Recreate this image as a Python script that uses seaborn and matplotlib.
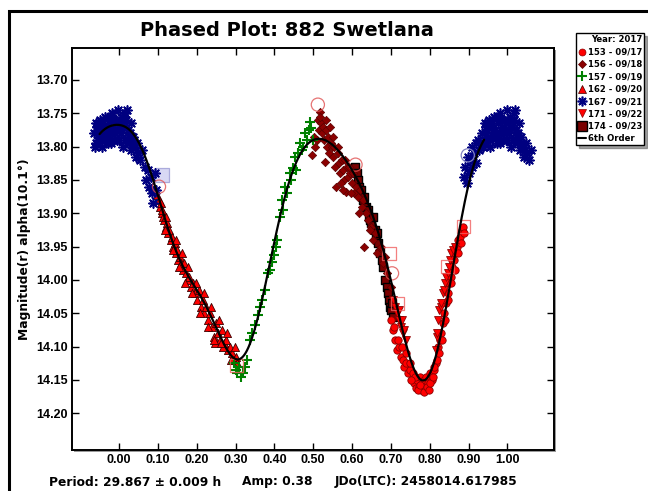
import numpy as np
import pandas as pd
import matplotlib
matplotlib.use("Agg")
import matplotlib.pyplot as plt
from matplotlib.patches import Rectangle
from matplotlib.lines import Line2D
import seaborn as sns

# ---------------------------------------------------------------- data
# Session 153 (09/17)
s153_phase = [0.700, 0.705, 0.710, 0.715, 0.720, 0.725, 0.730, 0.735, 0.740, 0.745,
              0.750, 0.755, 0.757, 0.760, 0.765, 0.768, 0.772, 0.775, 0.778, 0.780,
              0.782, 0.785, 0.788, 0.790, 0.795, 0.800, 0.805, 0.810, 0.815, 0.820,
              0.822, 0.826, 0.830, 0.834, 0.838, 0.842, 0.846, 0.850, 0.854, 0.858,
              0.862, 0.866, 0.870, 0.874, 0.878, 0.882, 0.885, 0.888,
              0.762, 0.770, 0.775, 0.785, 0.792, 0.798, 0.802, 0.808, 0.812, 0.752,
              0.748, 0.738, 0.728, 0.718, 0.708, 0.824, 0.832, 0.840, 0.848, 0.856,
              0.864, 0.872, 0.880]
s153_mag = [14.060, 14.075, 14.090, 14.105, 14.100, 14.115, 14.120, 14.130, 14.125, 14.140,
            14.135, 14.150, 14.140, 14.155, 14.162, 14.150, 14.160, 14.145, 14.165, 14.155,
            14.165, 14.150, 14.160, 14.145, 14.155, 14.140, 14.150, 14.135, 14.125, 14.120,
            14.100, 14.090, 14.080, 14.065, 14.050, 14.035, 14.020, 14.005, 13.995, 13.980,
            13.970, 13.960, 13.950, 13.940, 13.935, 13.925, 13.920, 13.930,
            14.145, 14.165, 14.158, 14.168, 14.160, 14.165, 14.155, 14.145, 14.130, 14.150,
            14.125, 14.110, 14.100, 14.090, 14.070, 14.110, 14.090, 14.060, 14.030, 14.005,
            13.985, 13.960, 13.945]

# Session 156 (09/18)
s156_phase = [0.497, 0.505, 0.510, 0.512, 0.515, 0.517, 0.520, 0.523, 0.525, 0.528,
              0.530, 0.533, 0.535, 0.538, 0.540, 0.545, 0.548, 0.550, 0.553, 0.556,
              0.560, 0.563, 0.566, 0.570, 0.573, 0.576, 0.580, 0.585, 0.588, 0.590,
              0.595, 0.600, 0.605, 0.610, 0.615, 0.620, 0.625, 0.630, 0.635, 0.640,
              0.650, 0.660, 0.670, 0.680, 0.690, 0.700,
              0.502, 0.518, 0.532, 0.542, 0.551, 0.565, 0.575, 0.582, 0.592, 0.598,
              0.603, 0.578, 0.571, 0.618, 0.628, 0.645, 0.655, 0.665, 0.675, 0.685]
s156_mag = [13.812, 13.800, 13.790, 13.760, 13.775, 13.748, 13.765, 13.780, 13.770, 13.790,
            13.823, 13.775, 13.800, 13.785, 13.810, 13.795, 13.800, 13.815, 13.800, 13.830,
            13.860, 13.810, 13.825, 13.840, 13.820, 13.835, 13.850, 13.868, 13.830, 13.845,
            13.840, 13.855, 13.870, 13.860, 13.875, 13.865, 13.890, 13.950, 13.900, 13.910,
            13.920, 13.930, 13.955, 13.975, 13.990, 14.010,
            13.785, 13.755, 13.760, 13.770, 13.785, 13.800, 13.820, 13.820, 13.830, 13.870,
            13.840, 13.865, 13.855, 13.900, 13.880, 13.925, 13.940, 13.960, 13.950, 13.965]

# Session 157 (09/19)
s157_phase = [0.295, 0.300, 0.305, 0.310, 0.315, 0.320, 0.325, 0.330, 0.337, 0.343,
              0.350, 0.357, 0.362, 0.367, 0.375, 0.383, 0.388, 0.393, 0.400, 0.404,
              0.408, 0.414, 0.419, 0.421, 0.427, 0.432, 0.440, 0.444, 0.447, 0.452,
              0.455, 0.460, 0.465, 0.470, 0.473, 0.478, 0.483, 0.488, 0.491, 0.494, 0.500]
s157_mag = [14.125, 14.135, 14.140, 14.130, 14.145, 14.140, 14.130, 14.120, 14.090, 14.080,
            14.067, 14.052, 14.040, 14.030, 14.015, 13.990, 13.985, 13.973, 13.962, 13.950,
            13.940, 13.905, 13.880, 13.895, 13.860, 13.870, 13.840, 13.850, 13.832, 13.815,
            13.835, 13.810, 13.795, 13.805, 13.800, 13.780, 13.790, 13.775, 13.763, 13.772, 13.790]

# Session 162 (09/20)
s162_phase = [0.098, 0.102, 0.105, 0.108, 0.110, 0.114, 0.117, 0.120, 0.124, 0.127,
              0.130, 0.133, 0.136, 0.140, 0.143, 0.146, 0.150, 0.153, 0.157, 0.160,
              0.164, 0.168, 0.172, 0.176, 0.180, 0.185, 0.190, 0.195, 0.200, 0.205,
              0.210, 0.215, 0.220, 0.225, 0.230, 0.235, 0.240, 0.245, 0.250, 0.255,
              0.260, 0.265, 0.270, 0.275, 0.280, 0.285, 0.290, 0.295, 0.300, 0.305,
              0.112, 0.118, 0.122, 0.138, 0.148, 0.155, 0.162, 0.170, 0.178, 0.188,
              0.198, 0.208, 0.218, 0.228, 0.238, 0.248, 0.258, 0.268, 0.278, 0.288,
              0.298, 0.245, 0.262]
s162_mag = [13.872, 13.880, 13.890, 13.885, 13.900, 13.905, 13.910, 13.920, 13.915, 13.930,
            13.925, 13.940, 13.935, 13.950, 13.945, 13.960, 13.955, 13.970, 13.965, 13.975,
            13.985, 13.975, 13.990, 14.000, 13.995, 14.010, 14.005, 14.020, 14.030, 14.015,
            14.040, 14.030, 14.050, 14.040, 14.060, 14.050, 14.070, 14.085, 14.065, 14.080,
            14.090, 14.075, 14.095, 14.090, 14.105, 14.100, 14.110, 14.120, 14.115, 14.125,
            13.895, 13.925, 13.905, 13.955, 13.940, 13.980, 13.960, 14.005, 13.980, 14.020,
            14.005, 14.050, 14.020, 14.070, 14.040, 14.095, 14.060, 14.100, 14.080, 14.120,
            14.100, 14.090, 14.095]

# Session 167 (09/21) -- phases past 1.0 wrap to the start of the cycle
s167_phase = [0.887, 0.892, 0.895, 0.898, 0.902, 0.905, 0.908, 0.910, 0.915, 0.918,
              0.920, 0.925, 0.928, 0.935, 0.938, 0.942, 0.945, 0.948, 0.952, 0.955,
              0.958, 0.962, 0.965, 0.968, 0.972, 0.975, 0.978, 0.982, 0.985, 0.988,
              0.992, 0.995, 0.998, 1.002, 1.005, 1.008, 1.012, 1.015, 1.018, 1.022,
              1.025, 1.028, 1.032, 1.035, 1.040, 1.043, 1.047, 1.050, 1.055, 1.060,
              1.067, 1.070, 1.074, 1.078, 1.082, 1.085, 1.088, 1.092, 1.095,
              0.940, 0.950, 0.960, 0.970, 0.980, 0.990, 1.000, 1.010, 1.020, 1.030,
              0.944, 0.956, 0.966, 0.976, 0.986, 0.996, 1.006, 1.016, 1.026, 1.036]
s167_mag = [13.845, 13.830, 13.855, 13.815, 13.840, 13.820, 13.800, 13.830, 13.810, 13.795,
            13.825, 13.790, 13.805, 13.780, 13.800, 13.765, 13.790, 13.775, 13.760, 13.800,
            13.770, 13.785, 13.755, 13.775, 13.795, 13.765, 13.780, 13.750, 13.770, 13.790,
            13.760, 13.775, 13.745, 13.765, 13.780, 13.755, 13.770, 13.790, 13.760, 13.775,
            13.795, 13.780, 13.805, 13.785, 13.800, 13.815, 13.795, 13.810, 13.820, 13.805,
            13.830, 13.850, 13.835, 13.860, 13.845, 13.870, 13.885, 13.840, 13.865,
            13.795, 13.785, 13.765, 13.785, 13.795, 13.780, 13.790, 13.800, 13.745, 13.765,
            13.770, 13.790, 13.780, 13.755, 13.760, 13.790, 13.770, 13.750, 13.785, 13.795]

# Session 171 (09/22)
s171_phase = [0.705, 0.710, 0.715, 0.720, 0.722, 0.725, 0.728, 0.730, 0.735, 0.738,
              0.815, 0.818, 0.820, 0.822, 0.825, 0.828, 0.830, 0.833, 0.836, 0.840,
              0.843, 0.846, 0.850, 0.853, 0.856, 0.860, 0.864]
s171_mag = [14.030, 14.040, 14.050, 14.060, 14.045, 14.070, 14.060, 14.080, 14.075, 14.090,
            14.105, 14.085, 14.080, 14.060, 14.045, 14.040, 14.035, 14.020, 14.015, 14.005,
            13.995, 13.990, 13.980, 13.970, 13.960, 13.955, 13.950]

# Session 174 (09/23)
s174_phase = [0.608, 0.612, 0.615, 0.617, 0.620, 0.623, 0.627, 0.630, 0.635, 0.640,
              0.643, 0.647, 0.650, 0.655, 0.658, 0.662, 0.665, 0.668, 0.672, 0.676,
              0.680, 0.685, 0.690, 0.692, 0.695, 0.698, 0.700, 0.703, 0.706]
s174_mag = [13.830, 13.840, 13.850, 13.860, 13.870, 13.865, 13.880, 13.875, 13.890, 13.895,
            13.905, 13.910, 13.915, 13.905, 13.925, 13.935, 13.930, 13.945, 13.960, 13.970,
            13.980, 14.000, 14.010, 14.020, 14.030, 14.040, 14.045, 14.035, 14.055]

# Points excluded from the fit (drawn hollow)
excl_circle_phase = [0.103, 0.512, 0.609, 0.703]
excl_circle_mag = [13.860, 13.737, 13.827, 13.990]
excl_square_phase = [0.846, 0.887, 0.695, 0.717, 0.303]
excl_square_mag = [13.980, 13.920, 13.960, 14.035, 14.128]
excl_blue_circle = (0.898, 13.813)
excl_blue_square = (0.112, 13.842)

# Knots of the 6th-order Fourier light curve
fit_phase = [0.000, 0.025, 0.050, 0.075, 0.100, 0.125, 0.150, 0.175, 0.200, 0.225,
             0.250, 0.275, 0.300, 0.320, 0.340, 0.360, 0.380, 0.400, 0.420, 0.440,
             0.460, 0.480, 0.500, 0.520, 0.540, 0.560, 0.580, 0.600, 0.620, 0.640,
             0.660, 0.680, 0.700, 0.720, 0.740, 0.760, 0.780, 0.800, 0.820, 0.840,
             0.860, 0.880, 0.900, 0.920, 0.940, 0.960, 0.980]
fit_mag = [13.766, 13.771, 13.792, 13.833, 13.875, 13.918, 13.955, 13.990, 14.020, 14.045,
           14.070, 14.093, 14.113, 14.124, 14.100, 14.045, 13.990, 13.945, 13.895, 13.850,
           13.818, 13.798, 13.789, 13.790, 13.795, 13.804, 13.815, 13.832, 13.857, 13.885,
           13.918, 13.955, 13.998, 14.050, 14.095, 14.135, 14.152, 14.145, 14.105, 14.045,
           13.975, 13.915, 13.860, 13.815, 13.790, 13.777, 13.768]

x_ticks = [0.0, 0.1, 0.2, 0.3, 0.4, 0.5, 0.6, 0.7, 0.8, 0.9, 1.0]
y_ticks = [13.70, 13.75, 13.80, 13.85, 13.90, 13.95, 14.00, 14.05, 14.10, 14.15, 14.20]

title = "Phased Plot: 882 Swetlana"
y_label = "Magnitude(r) alpha(10.1°)"
footer = ["Period: 29.867 ± 0.009 h", "Amp: 0.38", "JDo(LTC): 2458014.617985"]
legend_title = "Year: 2017"

# ---------------------------------------------------------------- style
sns.set_style("ticks")
plt.rcParams["font.family"] = ["Liberation Sans", "DejaVu Sans"]
plt.rcParams["font.weight"] = "bold"
plt.rcParams["text.color"] = "black"
plt.rcParams["axes.labelcolor"] = "black"
plt.rcParams["xtick.color"] = "black"
plt.rcParams["ytick.color"] = "black"

W, H = 648, 491
fig = plt.figure(figsize=(W / 100, H / 100), dpi=100)
fig.patch.set_facecolor("white")

ax_l, ax_r, ax_t, ax_b = 72, 554, 48, 450
ax = fig.add_axes([ax_l / W, 1 - ax_b / H, (ax_r - ax_l) / W, (ax_b - ax_t) / H])
ax.set_facecolor("white")

# drop shadow behind the plot frame
fig.add_artist(Rectangle(((ax_l + 2) / W, 1 - (ax_b + 2) / H), (ax_r - ax_l) / W,
                         (ax_b - ax_t) / H, transform=fig.transFigure,
                         facecolor="#9a9a9a", edgecolor="none", zorder=-5))
# outer page border
fig.add_artist(Rectangle((9 / W, -0.2), 1.5, 1.2 - 11 / H, transform=fig.transFigure,
                         fill=False, edgecolor="black", linewidth=2.2, zorder=10))

XMIN, XMAX = -0.065, 1.065


def wrap(phase, mag):
    p = np.asarray(phase, float)
    m = np.asarray(mag, float)
    ps, ms = [], []
    for shift in (-1.0, 0.0):
        q = p + shift
        keep = (q >= XMIN) & (q <= XMAX)
        ps.append(q[keep])
        ms.append(m[keep])
    return pd.DataFrame({"phase": np.concatenate(ps), "mag": np.concatenate(ms)})


series = [
    ("174 - 09/23", s174_phase, s174_mag, dict(marker="s", s=36, color="#7a0000", edgecolor="black", linewidth=1.0)),
    ("156 - 09/18", s156_phase, s156_mag, dict(marker="D", s=18, color="#8b0000", edgecolor="#5a0000", linewidth=0.5)),
    ("153 - 09/17", s153_phase, s153_mag, dict(marker="o", s=28, color="#ff0000", edgecolor="#8b0000", linewidth=0.6)),
    ("171 - 09/22", s171_phase, s171_mag, dict(marker="v", s=32, color="#ff0000", edgecolor="#8b0000", linewidth=0.6)),
    ("162 - 09/20", s162_phase, s162_mag, dict(marker="^", s=34, color="#ff0000", edgecolor="#3a0000", linewidth=0.6)),
    ("157 - 09/19", s157_phase, s157_mag, dict(marker="+", s=45, color="#008000", linewidth=1.5)),
    ("167 - 09/21", s167_phase, s167_mag, dict(marker=(8, 2, 0), s=42, color="#000080", linewidth=1.2)),
]

for name, ph, mg, kw in series:
    df = wrap(ph, mg)
    sns.scatterplot(data=df, x="phase", y="mag", ax=ax, legend=False, zorder=3, **kw)

# hollow markers for excluded observations
sns.scatterplot(x=excl_circle_phase, y=excl_circle_mag, ax=ax, marker="o", s=90,
                facecolor="none", edgecolor="#e05050", linewidth=0.9, alpha=0.8, legend=False, zorder=4)
sns.scatterplot(x=excl_square_phase, y=excl_square_mag, ax=ax, marker="s", s=90,
                facecolor="none", edgecolor="#f06060", linewidth=0.9, alpha=0.8, legend=False, zorder=4)
sns.scatterplot(x=[excl_blue_circle[0]], y=[excl_blue_circle[1]], ax=ax, marker="o", s=90,
                facecolor="none", edgecolor="#8080c0", linewidth=0.9, legend=False, zorder=4)
sns.scatterplot(x=[excl_blue_square[0]], y=[excl_blue_square[1]], ax=ax, marker="s", s=90,
                facecolor="#c8c8f0", edgecolor="#9090d0", linewidth=0.9, alpha=0.7, legend=False, zorder=2)

# 6th-order Fourier series through the curve knots
ORDER = 6


def design(p):
    p = np.asarray(p, float)
    cols = [np.ones_like(p)]
    for k in range(1, ORDER + 1):
        cols += [np.cos(2 * np.pi * k * p), np.sin(2 * np.pi * k * p)]
    return np.column_stack(cols)


coef, *_ = np.linalg.lstsq(design(fit_phase), np.asarray(fit_mag), rcond=None)
curve_p = np.linspace(-0.05, 0.94, 500)
curve = pd.DataFrame({"phase": curve_p, "mag": design(curve_p) @ coef})
sns.lineplot(data=curve, x="phase", y="mag", ax=ax, color="black", linewidth=1.6,
             sort=False, estimator=None, zorder=5)

# axes
ax.set_xlim(-0.121, 1.12)
ax.set_ylim(14.255, 13.652)
ax.set_xticks(x_ticks)
ax.set_yticks(y_ticks)
ax.set_xticklabels([f"{v:.2f}" for v in x_ticks])
ax.set_yticklabels([f"{v:.2f}" for v in y_ticks])
ax.tick_params(direction="in", length=5, width=1, top=True, right=True,
               labelsize=9, pad=3, colors="black")
for lab in ax.get_xticklabels() + ax.get_yticklabels():
    lab.set_fontweight("bold")
    lab.set_family(["Liberation Sans", "DejaVu Sans"])
for sp in ax.spines.values():
    sp.set_linewidth(1.4)
    sp.set_color("black")
    sp.set_visible(True)
ax.set_xlabel("")
ax.set_ylabel("")

fig.text(25 / W, 1 - 249 / H, y_label, rotation=90, ha="center", va="center",
         fontsize=8.8, fontweight="bold", family=["DejaVu Sans"], color="black")
fig.text(287 / W, 1 - 30 / H, title, ha="center", va="center",
         fontsize=14, fontweight="bold", family=["DejaVu Sans"], color="black")
for xpos, txt in zip([49, 242, 335], footer):
    fig.text(xpos / W, 1 - 482 / H, txt, ha="left", va="center",
             fontsize=8.8, fontweight="bold", family=["DejaVu Sans"], color="black")

# legend
handles = [
    Line2D([], [], ls="none", marker="o", ms=5, mfc="#ff0000", mec="#8b0000", mew=0.5),
    Line2D([], [], ls="none", marker="D", ms=4, mfc="#8b0000", mec="#5a0000", mew=0.5),
    Line2D([], [], ls="none", marker="+", ms=7, mec="#008000", mew=1.5),
    Line2D([], [], ls="none", marker="^", ms=5.5, mfc="#ff0000", mec="#3a0000", mew=0.5),
    Line2D([], [], ls="none", marker=(8, 2, 0), ms=7, mec="#000080", mew=1.2),
    Line2D([], [], ls="none", marker="v", ms=5.5, mfc="#ff0000", mec="#8b0000", mew=0.5),
    Line2D([], [], ls="none", marker="s", ms=6.5, mfc="#7a0000", mec="black", mew=1.0),
    Line2D([], [], color="black", lw=1.5),
]
labels = ["153 - 09/17", "156 - 09/18", "157 - 09/19", "162 - 09/20",
          "167 - 09/21", "171 - 09/22", "174 - 09/23", "6th Order"]
leg = fig.legend(handles, labels, title=legend_title, loc="upper left",
                 bbox_to_anchor=(576 / W, 1 - 33 / H), frameon=True, fancybox=False,
                 shadow=True, edgecolor="black", framealpha=1, borderaxespad=0,
                 prop=dict(family="DejaVu Sans", weight="bold", size=6.1),
                 title_fontproperties=dict(family="DejaVu Sans", weight="bold", size=6.1),
                 alignment="right", handlelength=0.9, handletextpad=0.25,
                 borderpad=0.25, labelspacing=0.4)
leg.get_frame().set_linewidth(1.0)

fig.savefig("out.png", dpi=100, facecolor="white")
